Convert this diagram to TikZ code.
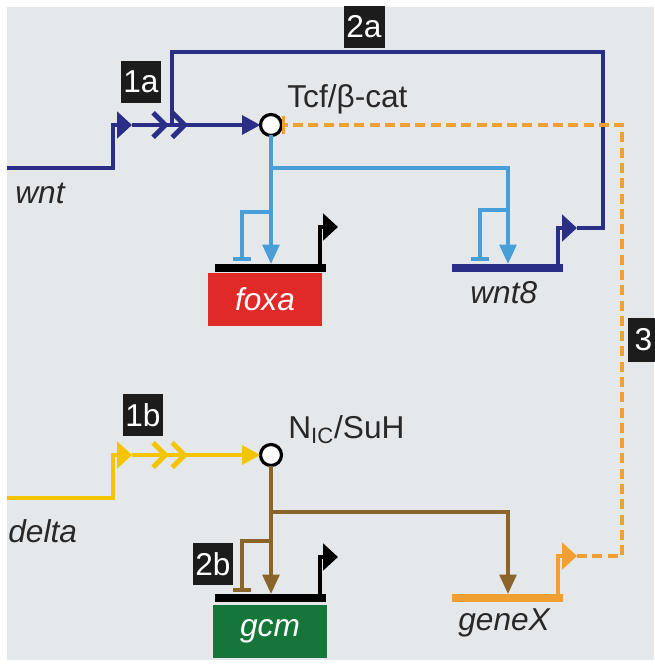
\documentclass[tikz,border=0pt]{standalone}
\usepackage{fontspec}
\setmainfont{Liberation Sans}
\usepackage{tikz}
\usetikzlibrary{arrows.meta,positioning}

\definecolor{bggray}{RGB}{229,232,235}
\definecolor{wntblue}{RGB}{42,46,134}
\definecolor{tcfblue}{RGB}{72,158,214}
\definecolor{deltayel}{RGB}{245,196,0}
\definecolor{nicbrown}{RGB}{138,100,42}
\definecolor{xorange}{RGB}{240,160,50}
\definecolor{foxared}{RGB}{224,42,40}
\definecolor{gcmgreen}{RGB}{22,118,58}
\definecolor{boxblack}{RGB}{28,28,28}
\definecolor{txtgray}{RGB}{40,40,40}
\newcommand{\mainfs}{\fontsize{18}{21}\selectfont}

\begin{document}
\begin{tikzpicture}[
        x=0.02cm, y=-0.02cm,
        hub/.style={
            circle,
            draw=black,
            line width=1.8pt,
            fill=white,
            minimum size=0.42cm,
            inner sep=0pt,
            outer sep=0pt
        },
        numbox/.style={
            rectangle,
            fill=boxblack,
            text=white,
            font=\mainfs,
            minimum width=0.82cm,
            minimum height=0.84cm,
            inner sep=0pt
        },
        genebox/.style={
            rectangle,
            text=white,
            font=\mainfs\itshape,
            minimum width=2.3cm,
            minimum height=1.06cm,
            inner sep=0pt
        },
        lbl/.style={font=\mainfs, text=txtgray, inner sep=0pt, anchor=base west},
        genelbl/.style={font=\mainfs\itshape, text=txtgray, inner sep=0pt, anchor=base west},
        genebar/.style={line width=4pt},
        wntln/.style={draw=wntblue, line width=2.8pt},
        deltaln/.style={draw=deltayel, line width=2.8pt},
        tcfln/.style={draw=tcfblue, line width=2pt},
        nicln/.style={draw=nicbrown, line width=2pt},
        xln/.style={draw=xorange, line width=2pt, dash pattern=on 5.7pt off 3pt},
        promtip/.style={-{Triangle[length=8.5pt, width=15pt]}},
        hubtip/.style={-{Triangle[length=10.5pt, width=10.5pt]}},
        chevtip/.style={-{Straight Barb[length=7pt, width=14pt, sep=0.5pt] Straight Barb[length=7pt, width=14pt]}},
        acttip/.style={-{Triangle[length=11pt, width=9.5pt]}},
        reptip/.style={-{Bar[width=10pt]}}
    ]
    \useasboundingbox (0,0) rectangle (654,666);
    \fill[bggray] (7,7) rectangle (654,660);

    % hubs
    \node[hub] (tcf) at (271,125) {};
    \node[hub] (nsuh) at (271,455) {};
    \node[lbl] (tcflbl) at (287,107) {Tcf/β-cat};
    \node[lbl] (niclbl) at (288,438) {N\textsubscript{IC}/SuH};

    % genes
    \node[genebox, fill=foxared] (foxa) at (265,299.5) {foxa};
    \node[genebox, fill=gcmgreen] (gcm) at (270,631.5) {gcm};
    \node[genelbl] (wntlbl) at (15,203) {wnt};
    \node[genelbl] (deltalbl) at (8,542) {delta};
    \node[genelbl] (wnt8lbl) at (470,303) {wnt8};
    \node[genelbl] (genexlbl) at (458,630) {geneX};

    \coordinate (foxaL) at (215,268);  \coordinate (foxaR) at (326,268);
    \coordinate (wnt8L) at (452,268);  \coordinate (wnt8R) at (563,268);
    \coordinate (gcmL) at (215,598);   \coordinate (gcmR) at (326,598);
    \coordinate (genexL) at (452,598); \coordinate (genexR) at (563,598);
    \draw[genebar, draw=black] (foxaL) -- (foxaR);
    \draw[genebar, draw=wntblue] (wnt8L) -- (wnt8R);
    \draw[genebar, draw=black] (gcmL) -- (gcmR);
    \draw[genebar, draw=xorange] (genexL) -- (genexR);

    % promoters
    \coordinate (wntin) at (7,168);     \coordinate (wnttss) at (113,168);
    \coordinate (wntprom) at (132,125);
    \coordinate (deltain) at (7,498);   \coordinate (deltatss) at (113,498);
    \coordinate (deltaprom) at (132,455);
    \coordinate (foxatss) at (320,268); \coordinate (foxaprom) at (338,227);
    \coordinate (wnt8tss) at (558,268); \coordinate (wnt8prom) at (577,228);
    \coordinate (gcmtss) at (320,598);  \coordinate (gcmprom) at (338,557);
    \coordinate (genextss) at (558,598); \coordinate (genexprom) at (577,556);

    \draw[wntln, promtip] (wntin) -- (wnttss) |- (wntprom);
    \draw[deltaln, promtip] (deltain) -- (deltatss) |- (deltaprom);
    \draw[line width=2.8pt, promtip] (foxatss) |- (foxaprom);
    \draw[wntln, promtip] (wnt8tss) |- (wnt8prom);
    \draw[line width=2.8pt, promtip] (gcmtss) |- (gcmprom);
    \draw[draw=xorange, line width=2.8pt, promtip] (genextss) |- (genexprom);

    % signal to hubs
    \coordinate (wntchevA) at (158,125); \coordinate (wntchev) at (188,125);
    \coordinate (deltachevA) at (158,455); \coordinate (deltachev) at (188,455);
    \draw[wntln, hubtip] (wntprom) -- (tcf.west);
    \draw[wntln, chevtip] (wntchevA) -- (wntchev);
    \draw[deltaln, hubtip] (deltaprom) -- (nsuh.west);
    \draw[deltaln, chevtip] (deltachevA) -- (deltachev);

    % 2a loop
    \coordinate (loopS) at (172,125);
    \coordinate (loopNW) at (172,52);
    \coordinate (loopNE) at (603,52);
    \coordinate (loopSE) at (603,228);
    \draw[wntln] (loopS) -- (loopNW) -- (loopNE) -- (loopSE) -- (wnt8prom);

    % Tcf targets
    \coordinate (tcfsplit) at (271,168);
    \coordinate (foxain) at (271,264);  \coordinate (wnt8in) at (508,264);
    \coordinate (foxarep) at (271,212); \coordinate (foxabar) at (242,261);
    \coordinate (wnt8rep) at (508,210); \coordinate (wnt8bar) at (480,261);
    \draw[tcfln, acttip] (tcf.south) -- (foxain);
    \draw[tcfln, acttip] (tcfsplit) -| (wnt8in);
    \draw[tcfln, reptip] (foxarep) -| (foxabar);
    \draw[tcfln, reptip] (wnt8rep) -| (wnt8bar);

    % Nic targets
    \coordinate (nicsplit) at (271,512);
    \coordinate (gcmin) at (271,594);   \coordinate (genexin) at (508,594);
    \coordinate (gcmrep) at (271,541);  \coordinate (gcmbar) at (242,592);
    \draw[nicln, acttip] (nsuh.south) -- (gcmin);
    \draw[nicln, acttip] (nicsplit) -| (genexin);
    \draw[nicln, reptip] (gcmrep) -| (gcmbar);

    % geneX feedback
    \coordinate (xSE) at (622,556);
    \coordinate (xNE) at (622,125);
    \draw[xln, reptip] (genexprom) -- (xSE) -- (xNE) -- (tcf.east);

    % labels
    \node[numbox] (lab2a) at (364,27) {2a};
    \node[numbox] (lab1a) at (141,82) {1a};
    \node[numbox] (lab1b) at (143,415) {1b};
    \node[numbox] (lab2b) at (213,564) {2b};
    \node[numbox, anchor=west, minimum width=0.6cm, minimum height=0.9cm] (lab3) at (628,340) {3};
\end{tikzpicture}
\end{document}
